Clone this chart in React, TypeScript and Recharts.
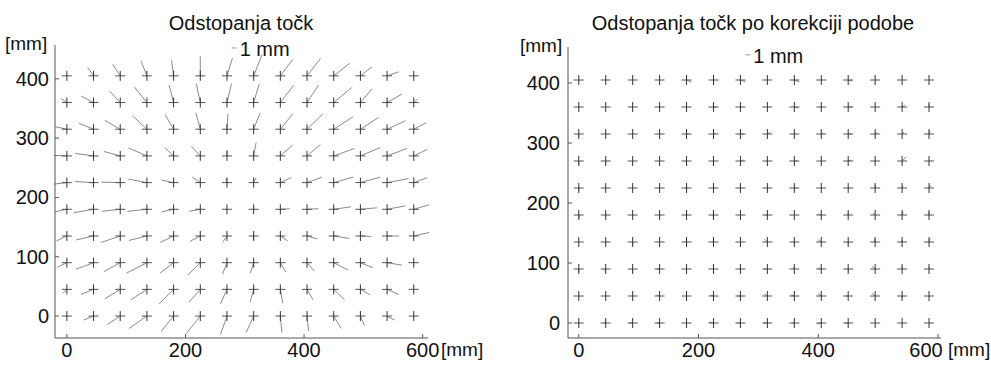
import React from 'react';
import { ScatterChart, Scatter, XAxis, YAxis, ReferenceLine, ReferenceDot } from 'recharts';

// measuring grid [mm]
const gridX = [0, 45, 90, 135, 180, 225, 270, 315, 360, 405, 450, 495, 540, 585];
const gridY = [405, 360, 315, 270, 225, 180, 135, 90, 45, 0];
const xTicks = [0, 200, 400, 600];
const yTicks = [0, 100, 200, 300, 400];

// deviations [mm], rows top (405) to bottom (0)
const leftDx = [
  [0, -1.2, -1.5, -1.2, -0.4, 0, 1.1, 1.7, 2.5, 2.7, 3.2, 2.3, 2.3, 0],
  [-1.2, -2.5, -2.1, -2.5, -0.9, -0.8, 0.9, 1.1, 2.7, 2.3, 3.6, 2.3, 3.0, 0.8],
  [-2.3, -2.9, -3.1, -2.9, -1.7, -0.9, 0.2, 1.3, 2.5, 3.2, 3.9, 3.7, 3.7, 2.5],
  [-2.6, -3.7, -3.3, -3.7, -1.8, -1.8, 0, 0.5, 2.5, 2.7, 4.2, 4.0, 4.0, 2.7],
  [-2.6, -3.7, -3.8, -3.7, -2.4, -1.6, -0.2, 0.5, 2.2, 3.0, 3.9, 4.0, 4.3, 2.7],
  [-2.4, -4.0, -3.7, -3.9, -2.4, -2.3, 0, 0, 1.9, 2.3, 3.5, 3.3, 3.7, 3.1],
  [-2.1, -3.5, -3.8, -3.6, -2.7, -2.1, -0.9, 0, 1.5, 2.1, 3.1, 2.2, 2.4, 3.1],
  [-1.9, -3.5, -3.3, -4.1, -2.7, -2.5, -0.9, -0.7, 1.1, 1.5, 2.9, 2.5, 3.0, 0],
  [-0.8, -2.5, -3.1, -3.2, -2.9, -2.3, -1.3, -0.7, 0.5, 1.2, 2.2, 2.0, 2.3, 0],
  [0, -2.0, -2.6, -3.6, -2.5, -2.8, -1.3, -1.5, 0.3, 0.3, 1.5, 0.8, 1.5, 0],
];
const leftDy = [
  [0.1, 1.7, 2.3, 3.0, 3.1, 3.9, 3.6, 4.3, 3.3, 3.5, 2.5, 1.8, 0.8, 0],
  [0.8, 1.3, 2.3, 3.1, 3.5, 3.8, 3.8, 3.7, 3.5, 3.5, 3.0, 2.7, 1.7, 0.7],
  [0.5, 1.2, 1.8, 2.7, 2.9, 3.3, 3.1, 3.3, 3.1, 3.1, 2.5, 2.4, 1.7, 1.3],
  [0.1, 0.5, 0.9, 1.6, 1.7, 1.9, 1.2, 2.7, 2.2, 2.3, 1.5, 1.7, 1.5, 1.3],
  [-0.3, 0.2, 0.1, 0.7, 0.5, 1.1, 0.9, 1.0, 1.0, 1.1, 1.1, 1.1, 0.8, 1.0],
  [-0.5, -0.7, -0.4, -0.4, -0.5, -0.4, 0, 0, 0.1, 0.1, 0.5, 0.3, 0.7, 0.9],
  [-1.0, -0.8, -1.3, -0.9, -1.3, -1.1, -1.3, -0.8, -1.0, -0.6, -0.5, -0.1, 0, 0.7],
  [-0.9, -1.3, -1.8, -2.1, -2.1, -2.5, -2.3, -2.1, -1.9, -1.7, -1.5, -1.0, -0.5, 0],
  [-0.8, -1.0, -1.9, -2.1, -2.9, -2.6, -2.9, -2.6, -2.8, -2.1, -2.1, -1.1, -1.0, 0],
  [0, -0.8, -1.7, -2.5, -3.1, -3.5, -3.7, -3.3, -3.3, -3.0, -2.5, -1.9, -0.8, 0],
];

const rightDx = [
  [0, 0, 0, 0, 1.0, 0, 1.0, 0, 1.0, 0, 0.8, 0, 0, 0],
  [0, 0, 0, 0, 0, 0.6, 0, 0, 0.8, 0, 0.8, 0, 0.6, 0],
  [0, 0, 0, 0, 0.4, 0.4, 0.6, 0.6, 0, 0.4, 0.6, 0.4, 0.4, 0.2],
  [0, 0, 0, 0, 0, 0, 0.6, 0, 0.6, 0, 0.6, 0, 0.8, 0],
  [0, 0, 0, 0, 0.2, 0, 0, 0.2, 0.4, 0, 0.2, 0, 0.2, 0.4],
  [0.2, 0, 0, 0, 0, -0.2, 0, -0.4, 0, -0.6, 0, -0.4, 0.2, 0],
  [0, 0, 0, 0, 0, -0.2, 0, -0.6, -0.2, -0.6, 0, -0.2, 0, 0.2],
  [0, -0.2, 0, -0.6, 0, 0, 0, -0.6, -0.2, -0.6, 0, -0.6, 0, 0],
  [0, 0, 0, -0.6, 0, -0.6, -0.6, -0.6, -0.6, -0.6, -0.4, -0.6, 0, 0.2],
  [0, -0.4, -0.6, -0.6, 0, -0.8, -0.6, -0.8, -0.4, -0.8, -0.6, 0, 0, 0],
];
const rightDy = [
  [0, 0, 0, 0, -0.4, 0, -0.4, 0, -0.4, 0, -0.2, 0, 0, 0],
  [0, 0, 0, 0, 0, 0, 0, 0, -0.2, 0, 0, 0, 0.4, 0.6],
  [-0.6, 0, 0, 0, 0, 0.2, 0, 0.4, 0, 0.2, 0, 0.4, 0.4, 0.6],
  [-0.6, -0.4, 0, 0, 0, 0, 0.2, 0, 0, 0, 0.2, 0, 0.8, 0],
  [-0.6, 0, 0, 0, -0.2, 0, 0, 0, 0, 0, 0.2, 0.6, 0.4, 0.6],
  [-0.6, -0.4, 0, -0.4, -0.2, -0.2, 0, 0, 0, 0.2, 0.4, 0.4, 0.6, 0.6],
  [0, 0, -0.6, 0, 0, 0.2, 0, 0.6, 0, 0.4, -0.4, 0.6, 0.4, 0.6],
  [-0.6, -0.4, -0.6, 0, 0, 0, -0.4, 0, 0.4, 0.2, -0.4, 0.6, 0.4, 0.4],
  [0, 0, 0, 0.2, 0, 0.2, 0, 0.4, 0.2, 0.4, 0, 0.6, -0.4, -0.2],
  [0, 0, 0, 0, 0, 0.2, 0, 0, 0, -0.2, 0, 0, 0, 0],
];

const VEC_SCALE = 8.4; // plot mm per 1 mm of deviation
const FONT = '"Liberation Sans", Arial, Helvetica, sans-serif';
const AXIS = '#555';
const TEXT = '#111';

const points = gridY.flatMap((y) => gridX.map((x) => ({ x, y })));

const Cross = (p: any) => (
  <g>
    <line x1={p.cx - 5} x2={p.cx + 5} y1={p.cy} y2={p.cy} stroke="#555" />
    <line x1={p.cx} x2={p.cx} y1={p.cy - 5} y2={p.cy + 5} stroke="#333" />
  </g>
);

const makeXTick = (lastShift: number) => (p: any) => (
  <g>
    <line x1={p.x} x2={p.x} y1={p.y} y2={p.y - 4} stroke={AXIS} />
    <text x={p.x + (p.payload.value === 600 ? lastShift : 0)} y={p.y + 19} textAnchor="middle"
      fontSize={20} fontFamily={FONT} fill={TEXT}>{p.payload.value}</text>
  </g>
);

const makeYTick = (gap: number) => (p: any) => (
  <g>
    <line x1={p.x} x2={p.x + 4} y1={p.y} y2={p.y} stroke={AXIS} />
    <text x={p.x - gap} y={p.y + 7} textAnchor="end"
      fontSize={20} fontFamily={FONT} fill={TEXT}>{p.payload.value}</text>
  </g>
);

interface PanelProps {
  dx: number[][];
  dy: number[][];
  width: number;
  yAxisWidth: number;
  top: number;
  xDomain: [number, number];
  yDomain: [number, number];
  barY: number;
  labelGap: number;
  lastShift: number;
}

const Panel = ({ dx, dy, width, yAxisWidth, top, xDomain, yDomain, barY, labelGap, lastShift }: PanelProps) => {
  const vectors: { x: number; y: number; ex: number; ey: number }[] = [];
  gridY.forEach((y, r) =>
    gridX.forEach((x, c) => {
      if (dx[r][c] !== 0 || dy[r][c] !== 0) {
        vectors.push({ x, y, ex: x + dx[r][c] * VEC_SCALE, ey: y + dy[r][c] * VEC_SCALE });
      }
    })
  );
  const barX = 278;
  return (
    <ScatterChart width={width} height={365} margin={{ top, right: 50, bottom: 0, left: 0 }}>
      <XAxis type="number" dataKey="x" domain={xDomain} ticks={xTicks} interval={0} allowDataOverflow
        height={27} tickSize={0} tickMargin={0} tickLine={false} axisLine={{ stroke: AXIS }}
        tick={makeXTick(lastShift)} />
      <YAxis type="number" dataKey="y" domain={yDomain} ticks={yTicks} interval={0} allowDataOverflow
        width={yAxisWidth} tickSize={0} tickMargin={0} tickLine={false} axisLine={{ stroke: AXIS }}
        tick={makeYTick(labelGap)} />
      <Scatter data={points} isAnimationActive={false} shape={Cross} />
      {vectors.map((v, i) => (
        <ReferenceLine key={i} segment={[{ x: v.x, y: v.y }, { x: v.ex, y: v.ey }]}
          stroke="#8a8a8a" strokeWidth={1} ifOverflow="visible" />
      ))}
      <ReferenceLine segment={[{ x: barX, y: barY }, { x: barX + VEC_SCALE, y: barY }]}
        stroke="#999" ifOverflow="visible" />
      <ReferenceDot x={barX + VEC_SCALE} y={barY} r={0} ifOverflow="visible"
        shape={(p: any) => (
          <text x={p.cx + 3} y={p.cy + 8} fontSize={20} fontFamily={FONT} fill={TEXT}>1 mm</text>
        )} />
    </ScatterChart>
  );
};

export default function App() {
  const label = { fontFamily: FONT, fill: TEXT };
  return (
    <div style={{ position: 'absolute', left: 0, top: 0, width: 991, height: 365, background: '#fff' }}>
      <div style={{ position: 'absolute', left: 0, top: 0 }}>
        <Panel dx={leftDx} dy={leftDy} width={478} yAxisWidth={55} top={45}
          xDomain={[-20, 609]} yDomain={[-37, 457]} barY={452} labelGap={6} lastShift={0} />
      </div>
      <div style={{ position: 'absolute', left: 500, top: 0 }}>
        <Panel dx={rightDx} dy={rightDy} width={491} yAxisWidth={68} top={47}
          xDomain={[-18, 605]} yDomain={[-25, 460]} barY={447} labelGap={8} lastShift={-12} />
      </div>
      <svg width={991} height={365} style={{ position: 'absolute', left: 0, top: 0, pointerEvents: 'none' }}>
        <text x={241} y={30} textAnchor="middle" fontSize={20} {...label}>Odstopanja točk</text>
        <text x={753} y={30} textAnchor="middle" fontSize={20} {...label}>Odstopanja točk po korekciji podobe</text>
        <text x={5} y={50} fontSize={19} {...label}>[mm]</text>
        <text x={520} y={52} fontSize={19} {...label}>[mm]</text>
        <text x={441} y={356} fontSize={19} {...label}>[mm]</text>
        <text x={948} y={356} fontSize={19} {...label}>[mm]</text>
      </svg>
    </div>
  );
}
